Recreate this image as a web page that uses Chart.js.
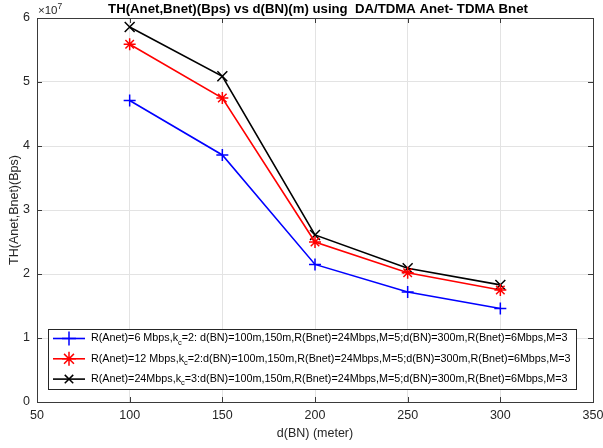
<!DOCTYPE html>
<html>
<head>
<meta charset="utf-8">
<script src="https://cdn.jsdelivr.net/npm/chart.js@4/dist/chart.umd.min.js"></script>
<style>
  html, body { margin: 0; padding: 0; background: #ffffff; }
  #wrap { width: 603px; height: 448px; position: relative; }
</style>
</head>
<body>
<div id="wrap"><canvas id="c" width="603" height="448"></canvas></div>
<script>
// ---- data ----
const distances = [100, 150, 200, 250, 300];
const thA6 = [4.71e7, 3.86e7, 2.15e7, 1.72e7, 1.46e7];
const thA12 = [5.59e7, 4.75e7, 2.50e7, 2.02e7, 1.75e7];
const thA24 = [5.86e7, 5.09e7, 2.61e7, 2.09e7, 1.83e7];
const seriesColors = ['#0000ff', '#ff0000', '#000000'];
const seriesMarkers = ['cross', 'star', 'crossRot'];
const legendHead = ['R(Anet)=6 Mbps,k', 'R(Anet)=12 Mbps,k', 'R(Anet)=24Mbps,k'];
const legendSub = ['c', 'c', 'c'];
const legendTail = [
  '=2: d(BN)=100m,150m,R(Bnet)=24Mbps,M=5;d(BN)=300m,R(Bnet)=6Mbps,M=3',
  '=2:d(BN)=100m,150m,R(Bnet)=24Mbps,M=5;d(BN)=300m,R(Bnet)=6Mbps,M=3',
  '=3:d(BN)=100m,150m,R(Bnet)=24Mbps,M=5;d(BN)=300m,R(Bnet)=6Mbps,M=3'
];
const xTicks = [50, 100, 150, 200, 250, 300, 350];
const yTicks = [0, 1, 2, 3, 4, 5, 6];
const yScaleExp = 7;
const titleText = 'TH(Anet,Bnet)(Bps) vs d(BN)(m) using  DA/TDMA Anet- TDMA Bnet';
const xTitle = 'd(BN) (meter)';
const yTitle = 'TH(Anet,Bnet)(Bps)';

const FONT = '"Liberation Sans", Arial, Helvetica, sans-serif';
const TXT = '#262626';

function toXY(ys) { return distances.map((x, i) => ({ x: x, y: ys[i] })); }

const allSeries = [thA6, thA12, thA24];
const datasets = allSeries.map((ys, i) => ({
  label: legendHead[i] + legendSub[i] + legendTail[i],
  data: toXY(ys),
  borderColor: seriesColors[i],
  backgroundColor: seriesColors[i],
  borderWidth: 1.6,
  pointStyle: seriesMarkers[i],
  pointRadius: i === 2 ? 7 : 6,
  pointBorderWidth: 1.5,
  pointHoverRadius: 6,
  tension: 0,
  fill: false
}));

function drawMarker(ctx, style, x, y, r, color) {
  ctx.save();
  ctx.strokeStyle = color;
  ctx.lineWidth = 1.5;
  ctx.beginPath();
  const d = r * Math.SQRT1_2;
  if (style === 'cross' || style === 'star') {
    ctx.moveTo(x - r, y); ctx.lineTo(x + r, y);
    ctx.moveTo(x, y - r); ctx.lineTo(x, y + r);
  }
  if (style === 'crossRot' || style === 'star') {
    ctx.moveTo(x - d, y - d); ctx.lineTo(x + d, y + d);
    ctx.moveTo(x - d, y + d); ctx.lineTo(x + d, y - d);
  }
  ctx.stroke();
  ctx.restore();
}

const matlabPlugin = {
  id: 'matlab',
  beforeDatasetsDraw(chart) {
    const ctx = chart.ctx, a = chart.chartArea;
    const xs = chart.scales.x, ys = chart.scales.y;
    ctx.save();
    ctx.strokeStyle = '#3a3a3a';
    ctx.lineWidth = 1;
    const tl = 5;
    ctx.beginPath();
    xTicks.forEach(v => {
      const px = Math.round(xs.getPixelForValue(v)) + 0.5;
      ctx.moveTo(px, a.bottom); ctx.lineTo(px, a.bottom - tl);
      ctx.moveTo(px, a.top); ctx.lineTo(px, a.top + tl);
    });
    yTicks.forEach(v => {
      const py = Math.round(ys.getPixelForValue(v * Math.pow(10, yScaleExp))) + 0.5;
      ctx.moveTo(a.left, py); ctx.lineTo(a.left + tl, py);
      ctx.moveTo(a.right, py); ctx.lineTo(a.right - tl, py);
    });
    ctx.stroke();
    ctx.strokeRect(Math.round(a.left) + 0.5, Math.round(a.top) + 0.5,
                   Math.round(a.right - a.left), Math.round(a.bottom - a.top));
    ctx.restore();
  },
  afterDraw(chart) {
    const ctx = chart.ctx, a = chart.chartArea;
    ctx.save();
    ctx.fillStyle = '#000000';
    let tsize = 12;
    ctx.font = 'bold ' + tsize + 'px ' + FONT;
    tsize = tsize * 420 / ctx.measureText(titleText).width;
    ctx.font = 'bold ' + tsize.toFixed(2) + 'px ' + FONT;
    ctx.textAlign = 'center';
    ctx.textBaseline = 'alphabetic';
    ctx.fillText(titleText, (a.left + a.right) / 2 + 3, 13);

    ctx.fillStyle = TXT;
    ctx.textAlign = 'left';
    ctx.font = '11.5px ' + FONT;
    const expBase = '\u00d710';
    ctx.fillText(expBase, a.left + 1, 14);
    const w = ctx.measureText(expBase).width;
    ctx.font = '8.5px ' + FONT;
    ctx.fillText(String(yScaleExp), a.left + 1 + w, 9);

    ctx.font = '12.5px ' + FONT;
    ctx.textAlign = 'center';
    ctx.textBaseline = 'middle';
    ctx.fillText(xTitle, (a.left + a.right) / 2, a.bottom + 32);
    ctx.save();
    ctx.translate(15, (a.top + a.bottom) / 2);
    ctx.rotate(-Math.PI / 2);
    ctx.fillText(yTitle, 0, 0);
    ctx.restore();

    const lx = a.left + 11, ly = a.bottom - 73, lw = 528, lh = 60;
    ctx.fillStyle = '#ffffff';
    ctx.fillRect(lx, ly, lw, lh);
    ctx.strokeStyle = '#262626';
    ctx.lineWidth = 1;
    ctx.strokeRect(lx + 0.5, ly + 0.5, lw, lh);
    let fs = 10;
    const rowWidth = (i, f) => {
      ctx.font = f + 'px ' + FONT;
      let ww = ctx.measureText(legendHead[i]).width + ctx.measureText(legendTail[i]).width;
      ctx.font = (f * 0.7) + 'px ' + FONT;
      return ww + ctx.measureText(legendSub[i]).width;
    };
    fs = fs * 480 / rowWidth(1, fs);
    for (let i = 0; i < 3; i++) {
      const ry = ly + 9.5 + i * 20.3;
      ctx.strokeStyle = seriesColors[i];
      ctx.lineWidth = 1.6;
      ctx.beginPath();
      ctx.moveTo(lx + 5, ry); ctx.lineTo(lx + 37, ry);
      ctx.stroke();
      drawMarker(ctx, seriesMarkers[i], lx + 21, ry, i === 2 ? 6 : 7, seriesColors[i]);
      ctx.fillStyle = '#000000';
      ctx.textAlign = 'left';
      ctx.textBaseline = 'middle';
      let tx = lx + 43;
      ctx.font = fs.toFixed(2) + 'px ' + FONT;
      ctx.fillText(legendHead[i], tx, ry);
      tx += ctx.measureText(legendHead[i]).width;
      ctx.font = (fs * 0.7).toFixed(2) + 'px ' + FONT;
      ctx.fillText(legendSub[i], tx, ry + 4);
      tx += ctx.measureText(legendSub[i]).width;
      ctx.font = fs.toFixed(2) + 'px ' + FONT;
      ctx.fillText(legendTail[i], tx, ry);
    }
    ctx.restore();
  }
};

new Chart(document.getElementById('c'), {
  type: 'line',
  data: { datasets: datasets },
  options: {
    responsive: false,
    animation: false,
    layout: { padding: { left: 0, right: 10, top: 18, bottom: 0 } },
    plugins: {
      legend: { display: false },
      title: { display: false },
      tooltip: { enabled: false }
    },
    scales: {
      x: {
        type: 'linear',
        min: xTicks[0],
        max: xTicks[xTicks.length - 1],
        afterBuildTicks(s) { s.ticks = xTicks.map(v => ({ value: v })); },
        afterFit(s) { s.height = 46; s.paddingLeft = 0; s.paddingRight = 0; },
        ticks: {
          color: TXT, maxRotation: 0, padding: 6,
          font: { family: FONT, size: 12.5 },
          callback: v => String(v)
        },
        grid: { color: '#e3e3e3', lineWidth: 1, drawTicks: false },
        border: { display: false }
      },
      y: {
        type: 'linear',
        min: 0,
        max: yTicks[yTicks.length - 1] * Math.pow(10, yScaleExp),
        afterBuildTicks(s) { s.ticks = yTicks.map(v => ({ value: v * Math.pow(10, yScaleExp) })); },
        afterFit(s) { s.width = 37; s.paddingTop = 0; s.paddingBottom = 0; },
        ticks: {
          color: TXT, padding: 7,
          font: { family: FONT, size: 12.5 },
          callback: v => String(Math.round(v / Math.pow(10, yScaleExp)))
        },
        grid: { color: '#e3e3e3', lineWidth: 1, drawTicks: false },
        border: { display: false }
      }
    }
  },
  plugins: [matlabPlugin]
});
</script>
</body>
</html>
